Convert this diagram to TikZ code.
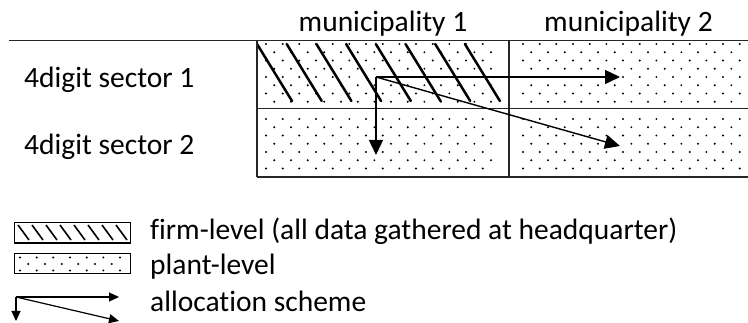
\documentclass[tikz,border=0pt]{standalone}
\usepackage{fontspec}
\setmainfont[Ligatures=NoCommon]{Carlito}
\usetikzlibrary{arrows.meta}
\newcommand\mydots[5]{% x0 y0 x1 y1 dy
  \foreach \j in {0,...,30}{%
    \pgfmathsetmacro\yy{#2+#5*\j}%
    \pgfmathsetmacro\off{mod(\j,2)*8.33}%
    \ifdim\yy pt<#4pt
      \foreach \i in {0,...,40}{%
        \pgfmathsetmacro\xx{#1+\off+16.67*\i}%
        \ifdim\xx pt<#3pt \fill (\xx,\yy) circle[radius=1.1pt];\fi
      }%
    \fi}}
\begin{document}
\begin{tikzpicture}[x=1pt,y=-1pt,
  txt/.style={inner sep=0pt,font=\fontsize{29.5}{34}\selectfont},
  grid/.style={line width=1.2pt,black!85},
  hatchline/.style={line width=2.5pt,line cap=round},
  arr/.style={line width=1.4pt,-{Triangle[length=15pt,width=14pt]}},
  larr/.style={line width=1.2pt,-{Triangle[length=10pt,width=9pt]}}]
\useasboundingbox (0,0) rectangle (748,323);
% dots
\mydots{266}{44}{496}{103}{8.25}
\mydots{266}{119}{496}{171}{8.25}
\mydots{523}{44}{744}{103}{8.25}
\mydots{523}{119}{744}{171}{8.25}
% hatching
\foreach \i in {0,...,7}
  \draw[hatchline] ({257+29.7*\i},44) -- ({292+29.7*\i},101);
% table lines
\draw[grid] (9,40.5) -- (748,40.5);
\draw[grid] (257,40.5) -- (257,177);
\draw[grid] (509,40.5) -- (509,177);
\draw[grid] (257,108.5) -- (748,108.5);
\draw[grid] (257,177) -- (748,177);
% headers
\node[txt,anchor=base] (m1) at (383,32) {municipality 1};
\node[txt,anchor=base] (m2) at (628.5,32) {municipality 2};
\node[txt,anchor=base west] (s1) at (24,88) {4digit sector 1};
\node[txt,anchor=base west] (s2) at (24,155) {4digit sector 2};
% allocation arrows
\coordinate (o) at (376,77);
\coordinate (d) at (376,155);
\coordinate (r) at (620,77);
\coordinate (s) at (620,146);
\draw[arr] (o) -- (d);
\draw[arr] (o) -- (r);
\draw[arr] (o) -- (s);
% legend
\node[draw,line width=1.1pt,minimum width=116pt,minimum height=20.5pt,inner sep=0pt,anchor=north west] (lh) at (14,222) {};
\foreach \i in {0,...,7}
  \draw[line width=1.6pt] ({18+14*\i},225) -- ({29+14*\i},240);
\mydots{20}{257.5}{128}{273}{6.5}
\node[draw,line width=1.1pt,minimum width=116pt,minimum height=20pt,inner sep=0pt,anchor=north west] (lp) at (14,253.3) {};
\coordinate (lo) at (16,297);
\coordinate (ld) at (16,321);
\coordinate (lr) at (119,297);
\coordinate (ls) at (119,321);
\draw[larr] (lo) -- (ld);
\draw[larr] (lo) -- (lr);
\draw[larr] (lo) -- (ls);
\node[txt,anchor=base west] (t1) at (150,240) {firm-level (all data gathered at headquarter)};
\node[txt,anchor=base west] (t2) at (150,275) {plant-level};
\node[txt,anchor=base west] (t3) at (150,312) {allocation scheme};
\end{tikzpicture}
\end{document}
